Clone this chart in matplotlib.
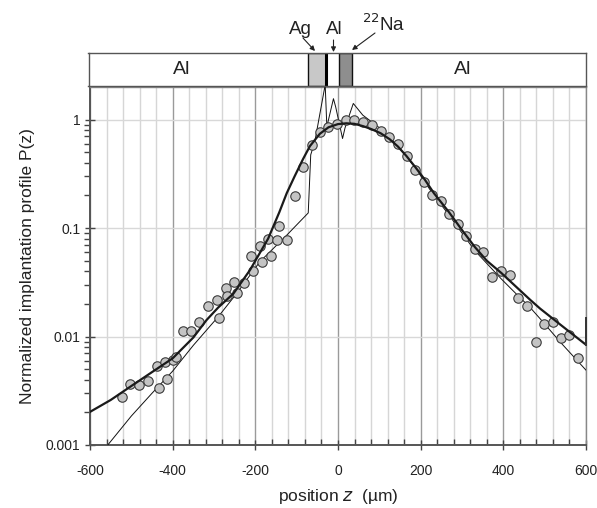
import matplotlib
matplotlib.use("Agg")
import matplotlib.pyplot as plt
from matplotlib.ticker import MultipleLocator, FixedLocator, FixedFormatter, NullFormatter
from matplotlib.patches import Rectangle, FancyArrowPatch

plt.rcParams['font.family'] = ['Liberation Sans', 'DejaVu Sans']
plt.rcParams['axes.unicode_minus'] = False

# ---- data: measured points ----
meas_z = [-522.6, -503.2, -480.4, -459.3, -438.7, -433.8, -417.7, -412.9, -398.4, -391.7,
          -375.6, -355.4, -335.3, -313.7, -291.9, -286.9, -271.8, -267.8, -251.6, -245.2,
          -226.4, -210.3, -204.8, -188.7, -184.7, -168.6, -161.9, -146.8, -141.7, -124.2,
          -104.8, -83.9, -63.7, -43.5, -23.4, -1.6, 19.4, 39.5, 61.3, 81.4,
          103.2, 124.2, 145.2, 166.1, 187.1, 208.1, 228.2, 248.4, 268.5, 289.5,
          309.7, 331.5, 351.6, 372.4, 395.2, 416.1, 436.3, 456.5, 478.2, 498.4,
          519.3, 539.5, 559.7, 581.5]
meas_p = [0.00278, 0.00362, 0.0036, 0.00392, 0.0053, 0.00335, 0.00587, 0.00406, 0.00612, 0.00653,
          0.0112, 0.0112, 0.0137, 0.019, 0.0216, 0.0149, 0.0278, 0.0238, 0.0318, 0.0254,
          0.0312, 0.0554, 0.0406, 0.0681, 0.0488, 0.079, 0.0554, 0.0769, 0.1045, 0.0769,
          0.198, 0.365, 0.587, 0.763, 0.849, 0.912, 0.986, 1.0, 0.958, 0.886,
          0.78, 0.686, 0.6, 0.464, 0.344, 0.268, 0.2, 0.179, 0.134, 0.109,
          0.0843, 0.064, 0.06, 0.0352, 0.0403, 0.0373, 0.0228, 0.019, 0.00885, 0.0131,
          0.0137, 0.0097, 0.0104, 0.0064]

# ---- data: smooth fit (thick line) ----
fit_z = [-600, -550, -500, -450, -400, -350, -318, -290, -253, -213, -169, -142, -124, -105,
         -85, -68, -44, -23, 0, 20, 40, 61, 80, 103, 125, 145, 166, 187, 210, 232, 268,
         300, 331, 360, 395, 430, 465, 489, 540, 600]
fit_p = [0.00202, 0.0026, 0.0035, 0.0047, 0.0063, 0.0098, 0.0142, 0.0185, 0.0249, 0.041,
         0.08, 0.14, 0.21, 0.30, 0.43, 0.57, 0.74, 0.85, 0.91, 0.925, 0.915, 0.87, 0.82,
         0.75, 0.66, 0.565, 0.46, 0.365, 0.28, 0.21, 0.141, 0.096, 0.067, 0.05, 0.0386,
         0.029, 0.0218, 0.0181, 0.0127, 0.0084]

# ---- data: simulation (thin line) ----
sim_z = [-557, -500, -450, -400, -350, -290, -245, -189, -128, -96, -72, -66, -56, -31,
         -27, -11, -5.6, 11, 17, 37, 60, 97, 125, 145, 187, 232, 268, 300, 331, 395, 430,
         465, 489, 540, 600]
sim_p = [0.001, 0.00185, 0.003, 0.0048, 0.0083, 0.0152, 0.025, 0.049, 0.083, 0.111,
         0.138, 0.474, 0.63, 2.1, 0.86, 1.56, 1.31, 0.67, 0.84, 1.41, 1.1, 0.86, 0.68,
         0.57, 0.36, 0.2, 0.133, 0.09, 0.062, 0.034, 0.025, 0.0185, 0.0146, 0.0087, 0.0049]

edge_z = [600, 600]
edge_p = [0.0084, 0.0147]

# ---- layer structure ----
layer_names = ['Al', 'Ag', 'Al', '22Na', 'Al']
layer_edges = [-600, -70, -27, 5, 35, 600]

y_ticks = [0.001, 0.01, 0.1, 1]
y_ticklabels = ['0.001', '0.01', '0.1', '1']
x_ticks = [-600, -400, -200, 0, 200, 400, 600]
x_ticklabels = ['-600', '-400', '-200', '0', '200', '400', '600']

W, H = 597, 508
fig = plt.figure(figsize=(W / 100, H / 100), dpi=100)

def fx(px):
    return px / W

def fy(py):
    return 1 - py / H

ax = fig.add_axes([fx(90), fy(445), (586 - 90) / W, (445 - 87) / H])
ax.set_yscale('log')
ax.set_xlim(-600, 600)
ax.set_ylim(0.001, 2.0)

ax.xaxis.set_major_locator(FixedLocator(x_ticks))
ax.xaxis.set_major_formatter(FixedFormatter(x_ticklabels))
ax.xaxis.set_minor_locator(MultipleLocator(40))
ax.yaxis.set_major_locator(FixedLocator(y_ticks))
ax.yaxis.set_major_formatter(FixedFormatter(y_ticklabels))
minor_y = [m * 10.0 ** e for e in (-3, -2, -1, 0) for m in range(2, 10) if m * 10.0 ** e < 2.0]
ax.yaxis.set_minor_locator(FixedLocator(minor_y))
ax.yaxis.set_minor_formatter(NullFormatter())

ax.grid(which='minor', axis='x', color='#d6d6d6', lw=1.0)
ax.grid(which='major', axis='x', color='#9a9a9a', lw=1.0)
ax.grid(which='major', axis='y', color='#d8d8d8', lw=1.0)
ax.set_axisbelow(True)

ax.tick_params(axis='x', which='major', direction='inout', length=7, width=1, color='#444444',
               labelsize=10, pad=10, labelcolor='#222222')
ax.tick_params(axis='x', which='minor', direction='in', length=4, width=1, color='#444444')
ax.tick_params(axis='y', which='major', direction='inout', length=7, width=1, color='#444444',
               labelsize=10, labelcolor='#222222')
ax.tick_params(axis='y', which='minor', direction='out', length=4, width=1, color='#444444')

for s in ['left', 'bottom']:
    ax.spines[s].set_color('#555555')
    ax.spines[s].set_linewidth(1.4)
for s in ['right', 'top']:
    ax.spines[s].set_color('#888888')
    ax.spines[s].set_linewidth(1.0)

ax.plot(sim_z, sim_p, color='#111111', lw=0.7, zorder=3)
ax.plot(meas_z, meas_p, 'o', ms=6.8, mfc='#c4c4c4', mec='#3a3a3a', mew=0.8, zorder=4)
ax.plot(fit_z, fit_p, color='#1a1a1a', lw=1.6, zorder=5)
ax.plot(edge_z, edge_p, color='#333333', lw=1.4, zorder=5, clip_on=False)

ax.set_xlabel('position $\\it{z}$  (\u00b5m)', fontsize=12.5, labelpad=7, color='#222222')
ax.set_ylabel('Normalized implantation profile P(z)', fontsize=12.5, labelpad=8, color='#222222')

# ---- layer box ----
bx = fig.add_axes([fx(88.5), fy(86), (586 - 88.5) / W, (86 - 53) / H])
bx.set_xlim(-600, 600)
bx.set_ylim(0, 1)
bx.set_xticks([])
bx.set_yticks([])
for s in bx.spines.values():
    s.set_color('#555555')
    s.set_linewidth(1.0)
fills = ['white', '#c8c8c8', 'white', '#8e8e8e', 'white']
for i, name in enumerate(layer_names):
    x0, x1 = layer_edges[i], layer_edges[i + 1]
    if name in ('Ag', '22Na'):
        bx.add_patch(Rectangle((x0, 0), x1 - x0, 1, facecolor=fills[i], edgecolor='#111111', lw=1.0))
bx.plot([layer_edges[2], layer_edges[2]], [0, 1], color='black', lw=2.2)
bx.text(-375, 0.5, 'Al', ha='center', va='center', fontsize=14, color='#222222')
bx.text(302, 0.5, 'Al', ha='center', va='center', fontsize=14, color='#222222')

# labels above with arrows
fig.text(fx(300), fy(33.5), 'Ag', ha='center', va='baseline', fontsize=13.5, color='#222222')
fig.text(fx(334), fy(34.5), 'Al', ha='center', va='baseline', fontsize=13.5, color='#222222')
fig.text(fx(384), fy(31), '$^{22}$Na', ha='center', va='baseline', fontsize=13.5, color='#222222')
arrow = dict(arrowstyle='-|>', color='#222222', lw=0.8, mutation_scale=7, shrinkA=0, shrinkB=0)
fig.add_artist(FancyArrowPatch((fx(303), fy(38)), (fx(315), fy(51)),
               transform=fig.transFigure, **arrow))
fig.add_artist(FancyArrowPatch((fx(333.5), fy(40)), (fx(333.5), fy(52)),
               transform=fig.transFigure, **arrow))
fig.add_artist(FancyArrowPatch((fx(375), fy(33)), (fx(352), fy(50)),
               transform=fig.transFigure, **arrow))

fig.savefig('out.png', dpi=100)
